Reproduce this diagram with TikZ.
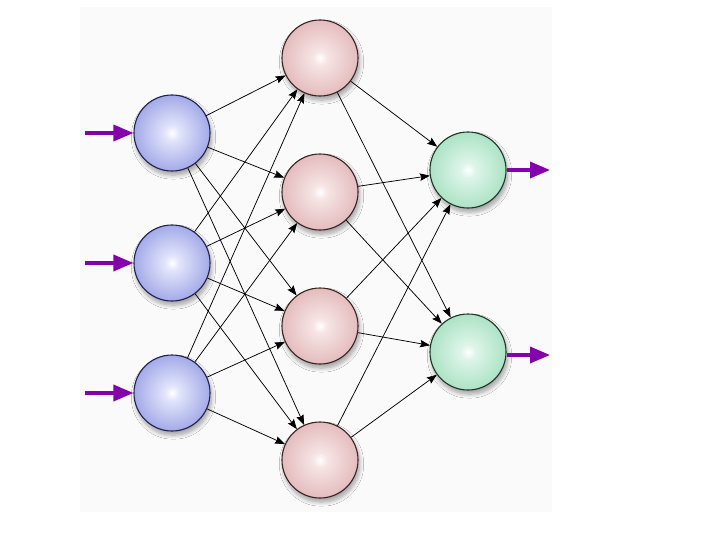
\documentclass[tikz,border=0pt]{standalone}
\usetikzlibrary{arrows.meta,shadows.blur}
\definecolor{bgc}{RGB}{250,250,250}
\definecolor{purp}{RGB}{132,0,170}
\definecolor{bla}{RGB}{225,228,250}
\definecolor{blb}{RGB}{148,156,228}
\definecolor{blc}{RGB}{106,116,208}
\definecolor{pka}{RGB}{246,228,228}
\definecolor{pkb}{RGB}{224,178,180}
\definecolor{pkc}{RGB}{204,142,146}
\definecolor{gra}{RGB}{222,245,233}
\definecolor{grb}{RGB}{160,222,188}
\definecolor{grc}{RGB}{118,200,156}
\definecolor{bledge}{RGB}{30,35,80}
\definecolor{pkedge}{RGB}{60,35,35}
\definecolor{gredge}{RGB}{30,55,40}
\pgfdeclareradialshading{ballblue}{\pgfpoint{0bp}{0bp}}{color(0bp)=(white); color(5bp)=(bla); color(30bp)=(blb); color(50bp)=(blc)}
\pgfdeclareradialshading{ballpink}{\pgfpoint{0bp}{0bp}}{color(0bp)=(white); color(5bp)=(pka); color(30bp)=(pkb); color(50bp)=(pkc)}
\pgfdeclareradialshading{ballgreen}{\pgfpoint{0bp}{0bp}}{color(0bp)=(white); color(5bp)=(gra); color(30bp)=(grb); color(50bp)=(grc)}
\begin{document}
\begin{tikzpicture}[x=1pt,y=-1pt,
  neuron/.style={circle, minimum size=76pt, inner sep=0pt, line width=1.1pt,
    blur shadow={shadow xshift=1.5pt, shadow yshift=-4pt, shadow blur steps=8, shadow opacity=35, shadow blur extra rounding=2pt, shadow blur radius=4pt}},
  inneuron/.style={neuron, draw=bledge, shading=ballblue},
  hidneuron/.style={neuron, draw=pkedge, shading=ballpink},
  outneuron/.style={neuron, draw=gredge, shading=ballgreen},
  conn/.style={line width=0.75pt, -{Stealth[length=10pt,width=7.5pt,inset=1.5pt]}},
  bigarrow/.style={purp, line width=3.4pt, -{Triangle[length=20pt,width=16pt]}}]
\useasboundingbox (0,0) rectangle (720,540);
\fill[bgc] (80,7) rectangle (552,512);
\node[inneuron] (i1) at (172,133) {};
\node[inneuron] (i2) at (172,263) {};
\node[inneuron] (i3) at (172,393) {};
\node[hidneuron] (h1) at (320,58) {};
\node[hidneuron] (h2) at (320,192) {};
\node[hidneuron] (h3) at (320,326) {};
\node[hidneuron] (h4) at (320,460) {};
\node[outneuron] (o1) at (468,170) {};
\node[outneuron] (o2) at (468,352) {};
\foreach \i in {1,2,3}{\foreach \j in {1,2,3,4}{\draw[conn] (i\i) -- (h\j);}}
\foreach \j in {1,2,3,4}{\foreach \k in {1,2}{\draw[conn] (h\j) -- (o\k);}}
\coordinate (s1) at (85,133);
\coordinate (s2) at (85,263);
\coordinate (s3) at (85,393);
\coordinate (e1) at (550,170);
\coordinate (e2) at (550,355);
\foreach \n in {1,2,3}{\draw[bigarrow] (s\n) -- (i\n.west);}
\draw[bigarrow] (o1.east) -- (e1);
\draw[bigarrow] (o2.east |- e2) -- (e2);
\end{tikzpicture}
\end{document}
